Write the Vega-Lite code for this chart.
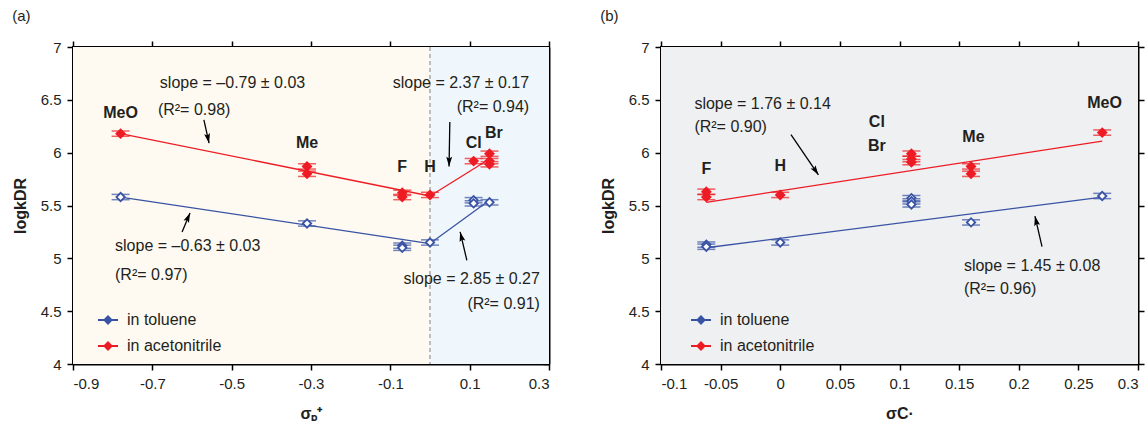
{
  "$schema": "https://vega.github.io/schema/vega-lite/v6.json",
  "padding": {"left": 11, "top": 8, "right": 5, "bottom": 5},
  "background": "white",
  "spacing": 48,
  "config": {
    "font": "Liberation Sans",
    "view": {"stroke": "black", "strokeWidth": 2},
    "axis": {"domainColor": "black", "domainWidth": 2, "tickColor": "black", "tickWidth": 1.5, "tickSize": 6, "labelFontSize": 15, "labelColor": "#231f20", "labelPadding": 6, "grid": false, "titleFontSize": 16, "titleColor": "#231f20", "titleFontWeight": "bold", "titlePadding": 12},
    "text": {"color": "#231f20"}
  },
  "resolve": {"scale": {"stroke": "independent", "fill": "independent", "color": "independent"}, "legend": {"stroke": "independent", "fill": "independent"}},
  "datasets": {
    "regions": [
      {"panel": "a", "region": "σ<0", "x0": -0.9, "x1": 0, "y0": 4, "y1": 7},
      {"panel": "a", "region": "σ>0", "x0": 0, "x1": 0.3, "y0": 4, "y1": 7},
      {"panel": "b", "region": "all", "x0": -0.1, "x1": 0.3, "y0": 4, "y1": 7}
    ],
    "points": [
      {"panel": "a", "series": "in acetonitrile", "sub": "MeO", "x": -0.78, "y": 6.18, "err": 0.025},
      {"panel": "a", "series": "in acetonitrile", "sub": "Me", "x": -0.31, "y": 5.87, "err": 0.025},
      {"panel": "a", "series": "in acetonitrile", "sub": "Me", "x": -0.31, "y": 5.8, "err": 0.025},
      {"panel": "a", "series": "in acetonitrile", "sub": "F", "x": -0.07, "y": 5.62, "err": 0.025},
      {"panel": "a", "series": "in acetonitrile", "sub": "F", "x": -0.07, "y": 5.58, "err": 0.025},
      {"panel": "a", "series": "in acetonitrile", "sub": "H", "x": 0, "y": 5.6, "err": 0.025},
      {"panel": "a", "series": "in acetonitrile", "sub": "Cl", "x": 0.11, "y": 5.92, "err": 0.025},
      {"panel": "a", "series": "in acetonitrile", "sub": "Br", "x": 0.15, "y": 5.99, "err": 0.025},
      {"panel": "a", "series": "in acetonitrile", "sub": "Br", "x": 0.15, "y": 5.92, "err": 0.025},
      {"panel": "a", "series": "in acetonitrile", "sub": "Br", "x": 0.15, "y": 5.89, "err": 0.025},
      {"panel": "a", "series": "in toluene", "sub": "MeO", "x": -0.78, "y": 5.58, "err": 0.025},
      {"panel": "a", "series": "in toluene", "sub": "Me", "x": -0.31, "y": 5.33, "err": 0.025},
      {"panel": "a", "series": "in toluene", "sub": "F", "x": -0.07, "y": 5.12, "err": 0.025},
      {"panel": "a", "series": "in toluene", "sub": "F", "x": -0.07, "y": 5.1, "err": 0.025},
      {"panel": "a", "series": "in toluene", "sub": "H", "x": 0, "y": 5.15, "err": 0.025},
      {"panel": "a", "series": "in toluene", "sub": "Cl", "x": 0.11, "y": 5.55, "err": 0.025},
      {"panel": "a", "series": "in toluene", "sub": "Cl", "x": 0.11, "y": 5.52, "err": 0.025},
      {"panel": "a", "series": "in toluene", "sub": "Br", "x": 0.15, "y": 5.53, "err": 0.025},
      {"panel": "b", "series": "in acetonitrile", "sub": "F", "x": -0.062, "y": 5.63, "err": 0.025},
      {"panel": "b", "series": "in acetonitrile", "sub": "F", "x": -0.062, "y": 5.58, "err": 0.025},
      {"panel": "b", "series": "in acetonitrile", "sub": "H", "x": 0, "y": 5.6, "err": 0.025},
      {"panel": "b", "series": "in acetonitrile", "sub": "Cl/Br", "x": 0.11, "y": 5.99, "err": 0.025},
      {"panel": "b", "series": "in acetonitrile", "sub": "Cl/Br", "x": 0.11, "y": 5.94, "err": 0.025},
      {"panel": "b", "series": "in acetonitrile", "sub": "Cl/Br", "x": 0.11, "y": 5.91, "err": 0.025},
      {"panel": "b", "series": "in acetonitrile", "sub": "Me", "x": 0.16, "y": 5.87, "err": 0.025},
      {"panel": "b", "series": "in acetonitrile", "sub": "Me", "x": 0.16, "y": 5.8, "err": 0.025},
      {"panel": "b", "series": "in acetonitrile", "sub": "MeO", "x": 0.27, "y": 6.19, "err": 0.025},
      {"panel": "b", "series": "in toluene", "sub": "F", "x": -0.062, "y": 5.13, "err": 0.025},
      {"panel": "b", "series": "in toluene", "sub": "F", "x": -0.062, "y": 5.11, "err": 0.025},
      {"panel": "b", "series": "in toluene", "sub": "H", "x": 0, "y": 5.15, "err": 0.025},
      {"panel": "b", "series": "in toluene", "sub": "Cl/Br", "x": 0.11, "y": 5.57, "err": 0.025},
      {"panel": "b", "series": "in toluene", "sub": "Cl/Br", "x": 0.11, "y": 5.54, "err": 0.025},
      {"panel": "b", "series": "in toluene", "sub": "Cl/Br", "x": 0.11, "y": 5.51, "err": 0.025},
      {"panel": "b", "series": "in toluene", "sub": "Me", "x": 0.16, "y": 5.34, "err": 0.025},
      {"panel": "b", "series": "in toluene", "sub": "MeO", "x": 0.27, "y": 5.59, "err": 0.025}
    ],
    "fits": [
      {"panel": "a", "series": "in toluene", "seg": "t1", "x": -0.78, "y": 5.58},
      {"panel": "a", "series": "in toluene", "seg": "t1", "x": 0, "y": 5.14},
      {"panel": "a", "series": "in toluene", "seg": "t2", "x": 0, "y": 5.14},
      {"panel": "a", "series": "in toluene", "seg": "t2", "x": 0.15, "y": 5.55},
      {"panel": "a", "series": "in acetonitrile", "seg": "m1", "x": -0.78, "y": 6.18},
      {"panel": "a", "series": "in acetonitrile", "seg": "m1", "x": 0, "y": 5.59},
      {"panel": "a", "series": "in acetonitrile", "seg": "m2", "x": 0, "y": 5.59},
      {"panel": "a", "series": "in acetonitrile", "seg": "m2", "x": 0.15, "y": 5.94},
      {"panel": "b", "series": "in toluene", "seg": "t", "x": -0.062, "y": 5.1},
      {"panel": "b", "series": "in toluene", "seg": "t", "x": 0.27, "y": 5.58},
      {"panel": "b", "series": "in acetonitrile", "seg": "m", "x": -0.062, "y": 5.53},
      {"panel": "b", "series": "in acetonitrile", "seg": "m", "x": 0.27, "y": 6.11}
    ],
    "notes": [
      {"panel": "a", "x": -0.681, "y": 6.66, "text": "slope = –0.79 ± 0.03"},
      {"panel": "a", "x": -0.686, "y": 6.4, "text": "(R²= 0.98)"},
      {"panel": "a", "x": 0.25, "y": 6.66, "text": "slope = 2.37 ± 0.17"},
      {"panel": "a", "x": 0.25, "y": 6.43, "text": "(R²= 0.94)"},
      {"panel": "a", "x": -0.794, "y": 5.12, "text": "slope = –0.63 ± 0.03"},
      {"panel": "a", "x": -0.794, "y": 4.84, "text": "(R²= 0.97)"},
      {"panel": "a", "x": 0.277, "y": 4.8, "text": "slope = 2.85 ± 0.27"},
      {"panel": "a", "x": 0.277, "y": 4.57, "text": "(R²= 0.91)"},
      {"panel": "b", "x": -0.072, "y": 6.46, "text": "slope = 1.76 ± 0.14"},
      {"panel": "b", "x": -0.072, "y": 6.24, "text": "(R²= 0.90)"},
      {"panel": "b", "x": 0.154, "y": 4.93, "text": "slope = 1.45 ± 0.08"},
      {"panel": "b", "x": 0.154, "y": 4.71, "text": "(R²= 0.96)"}
    ],
    "labels": [
      {"panel": "a", "x": -0.78, "y": 6.38, "text": "MeO"},
      {"panel": "a", "x": -0.31, "y": 6.09, "text": "Me"},
      {"panel": "a", "x": -0.07, "y": 5.86, "text": "F"},
      {"panel": "a", "x": 0, "y": 5.86, "text": "H"},
      {"panel": "a", "x": 0.11, "y": 6.09, "text": "Cl"},
      {"panel": "a", "x": 0.161, "y": 6.19, "text": "Br"},
      {"panel": "b", "x": -0.062, "y": 5.85, "text": "F"},
      {"panel": "b", "x": 0, "y": 5.87, "text": "H"},
      {"panel": "b", "x": 0.081, "y": 6.29, "text": "Cl"},
      {"panel": "b", "x": 0.081, "y": 6.06, "text": "Br"},
      {"panel": "b", "x": 0.162, "y": 6.15, "text": "Me"},
      {"panel": "b", "x": 0.272, "y": 6.47, "text": "MeO"}
    ],
    "arrows": [
      {"panel": "a", "x": -0.57, "y": 6.31, "x2": -0.557, "y2": 6.09, "angle": 168},
      {"panel": "a", "x": 0.05, "y": 6.29, "x2": 0.048, "y2": 5.87, "angle": 181},
      {"panel": "a", "x": -0.625, "y": 5.25, "x2": -0.605, "y2": 5.43, "angle": 23},
      {"panel": "a", "x": 0.093, "y": 4.98, "x2": 0.076, "y2": 5.25, "angle": -14},
      {"panel": "b", "x": 0.009, "y": 6.17, "x2": 0.032, "y2": 5.79, "angle": 146},
      {"panel": "b", "x": 0.2195, "y": 5.11, "x2": 0.2136, "y2": 5.4, "angle": -13}
    ]
  },
  "hconcat": [
    {
      "width": 476,
      "height": 317,
      "title": {"text": "(a)", "anchor": "start", "frame": "bounds", "fontSize": 15, "fontWeight": "normal", "offset": 16, "color": "#231f20"},
      "resolve": {"axis": {"x": "independent", "y": "independent"}},
      "layer": [
        {
          "data": {"name": "regions"},
          "transform": [{"filter": "datum.panel === 'a' && datum.x1 <= 0"}],
          "mark": {"type": "rect", "fill": "#fefaf1"},
          "encoding": {
            "x": {"field": "x0", "type": "quantitative", "scale": {"domain": [-0.9, 0.3], "nice": false, "zero": false}, "axis": {"orient": "bottom", "values": [-0.9, -0.7, -0.5, -0.3, -0.1, 0.1, 0.3], "format": ".1f", "labelExpr": "replace(datum.label, '−', '-')", "title": "σₚ⁺", "titlePadding": 14}},
            "x2": {"field": "x1"},
            "y": {"field": "y0", "type": "quantitative", "scale": {"domain": [4, 7], "nice": false, "zero": false}, "axis": {"orient": "left", "values": [4, 4.5, 5, 5.5, 6, 6.5, 7], "format": "~g", "title": "logkDR"}},
            "y2": {"field": "y1"}
          }
        },
        {
          "data": {"name": "regions"},
          "transform": [{"filter": "datum.panel === 'a' && datum.x0 >= 0"}],
          "mark": {"type": "rect", "fill": "#f0f7fc"},
          "encoding": {
            "x": {"field": "x0", "type": "quantitative", "axis": null},
            "x2": {"field": "x1"},
            "y": {"field": "y0", "type": "quantitative", "axis": null},
            "y2": {"field": "y1"}
          }
        },
        {
          "data": {"name": "regions"},
          "transform": [{"filter": "datum.panel === 'a' && datum.x0 >= 0"}],
          "mark": {"type": "rule", "stroke": "#a8a8a8", "strokeDash": [4, 3], "strokeWidth": 1.5},
          "encoding": {
            "x": {"field": "x0", "type": "quantitative", "axis": null}
          }
        },
        {
          "data": {"name": "fits"},
          "transform": [{"filter": "datum.panel === 'a'"}],
          "mark": {"type": "line", "strokeWidth": 1.3},
          "encoding": {
            "x": {"field": "x", "type": "quantitative", "axis": {"orient": "top", "labels": false, "title": null, "values": [-0.9, -0.7, -0.5, -0.3, -0.1, 0.1, 0.3]}},
            "y": {"field": "y", "type": "quantitative", "axis": {"orient": "right", "labels": false, "title": null, "values": [4, 4.5, 5, 5.5, 6, 6.5, 7], "tickSize": -6}},
            "detail": {"field": "seg"},
            "stroke": {"field": "series", "type": "nominal", "scale": {"domain": ["in toluene", "in acetonitrile"], "range": ["#3953a4", "#ed1c24"]}, "legend": {"orient": "none", "legendX": 24, "legendY": 262, "title": null, "symbolType": "M-1,0H-0.35M0.35,0H1M-0.35,0L0,-0.35L0.35,0L0,0.35Z", "symbolSize": 400, "symbolStrokeWidth": 2, "labelFontSize": 16, "labelColor": "#231f20", "rowPadding": 7, "labelOffset": 8, "padding": 0}}
          }
        },
        {
          "data": {"name": "points"},
          "transform": [{"filter": "datum.panel === 'a'"}],
          "mark": {"type": "errorbar", "ticks": {"size": 18, "thickness": 1.5}, "rule": {"strokeWidth": 1.5}},
          "encoding": {
            "x": {"field": "x", "type": "quantitative", "axis": null},
            "y": {"field": "y", "type": "quantitative", "axis": null},
            "yError": {"field": "err"},
            "color": {"field": "series", "type": "nominal", "scale": {"domain": ["in toluene", "in acetonitrile"], "range": ["#3953a4", "#ed1c24"]}, "legend": null}
          }
        },
        {
          "data": {"name": "points"},
          "transform": [{"filter": "datum.panel === 'a'"}],
          "mark": {"type": "point", "shape": "diamond", "size": 70, "strokeWidth": 1.8, "opacity": 1},
          "encoding": {
            "x": {"field": "x", "type": "quantitative", "axis": null},
            "y": {"field": "y", "type": "quantitative", "axis": null},
            "stroke": {"field": "series", "type": "nominal", "scale": {"domain": ["in toluene", "in acetonitrile"], "range": ["#3953a4", "#ed1c24"]}, "legend": {"orient": "none", "legendX": 24, "legendY": 262, "title": null, "symbolType": "M-1,0H-0.35M0.35,0H1M-0.35,0L0,-0.35L0.35,0L0,0.35Z", "symbolSize": 400, "symbolStrokeWidth": 2, "labelFontSize": 16, "labelColor": "#231f20", "rowPadding": 7, "labelOffset": 8, "padding": 0}},
            "fill": {"field": "series", "type": "nominal", "scale": {"domain": ["in toluene", "in acetonitrile"], "range": ["#ffffff", "#ed1c24"]}, "legend": {"orient": "none", "legendX": 24, "legendY": 262, "title": null, "symbolType": "M-1,0H-0.35M0.35,0H1M-0.35,0L0,-0.35L0.35,0L0,0.35Z", "symbolSize": 400, "symbolStrokeWidth": 2, "labelFontSize": 16, "labelColor": "#231f20", "rowPadding": 7, "labelOffset": 8, "padding": 0}}
          }
        },
        {
          "data": {"name": "notes"},
          "transform": [{"filter": "datum.panel === 'a' && datum.x < 0"}],
          "mark": {"type": "text", "align": "left", "baseline": "middle", "fontSize": 16},
          "encoding": {
            "x": {"field": "x", "type": "quantitative", "axis": null},
            "y": {"field": "y", "type": "quantitative", "axis": null},
            "text": {"field": "text"}
          }
        },
        {
          "data": {"name": "notes"},
          "transform": [{"filter": "datum.panel === 'a' && datum.x > 0"}],
          "mark": {"type": "text", "align": "right", "baseline": "middle", "fontSize": 16},
          "encoding": {
            "x": {"field": "x", "type": "quantitative", "axis": null},
            "y": {"field": "y", "type": "quantitative", "axis": null},
            "text": {"field": "text"}
          }
        },
        {
          "data": {"name": "labels"},
          "transform": [{"filter": "datum.panel === 'a'"}],
          "mark": {"type": "text", "align": "center", "baseline": "middle", "fontSize": 16, "fontWeight": "bold"},
          "encoding": {
            "x": {"field": "x", "type": "quantitative", "axis": null},
            "y": {"field": "y", "type": "quantitative", "axis": null},
            "text": {"field": "text"}
          }
        },
        {
          "data": {"name": "arrows"},
          "transform": [{"filter": "datum.panel === 'a'"}],
          "mark": {"type": "rule", "stroke": "black", "strokeWidth": 1.3},
          "encoding": {
            "x": {"field": "x", "type": "quantitative", "axis": null},
            "y": {"field": "y", "type": "quantitative", "axis": null},
            "x2": {"field": "x2"},
            "y2": {"field": "y2"}
          }
        },
        {
          "data": {"name": "arrows"},
          "transform": [{"filter": "datum.panel === 'a'"}],
          "mark": {"type": "point", "shape": "M0,0L-0.4,1.3L0,1.05L0.4,1.3Z", "filled": true, "color": "black", "size": 220, "opacity": 1},
          "encoding": {
            "x": {"field": "x2", "type": "quantitative", "axis": null},
            "y": {"field": "y2", "type": "quantitative", "axis": null},
            "angle": {"field": "angle", "type": "quantitative", "scale": null}
          }
        }
      ]
    },
    {
      "width": 477,
      "height": 317,
      "title": {"text": "(b)", "anchor": "start", "frame": "bounds", "fontSize": 15, "fontWeight": "normal", "offset": 16, "color": "#231f20"},
      "resolve": {"axis": {"x": "independent", "y": "independent"}},
      "layer": [
        {
          "data": {"name": "regions"},
          "transform": [{"filter": "datum.panel === 'b'"}],
          "mark": {"type": "rect", "fill": "#eff0f2"},
          "encoding": {
            "x": {"field": "x0", "type": "quantitative", "scale": {"domain": [-0.1, 0.3], "nice": false, "zero": false}, "axis": {"orient": "bottom", "values": [-0.1, -0.05, 0, 0.05, 0.1, 0.15, 0.2, 0.25, 0.3], "format": "~g", "labelExpr": "replace(datum.label, '−', '-')", "title": "σC·", "titlePadding": 14}},
            "x2": {"field": "x1"},
            "y": {"field": "y0", "type": "quantitative", "scale": {"domain": [4, 7], "nice": false, "zero": false}, "axis": {"orient": "left", "values": [4, 4.5, 5, 5.5, 6, 6.5, 7], "format": "~g", "title": "logkDR"}},
            "y2": {"field": "y1"}
          }
        },
        {
          "data": {"name": "fits"},
          "transform": [{"filter": "datum.panel === 'b'"}],
          "mark": {"type": "line", "strokeWidth": 1.3},
          "encoding": {
            "x": {"field": "x", "type": "quantitative", "axis": {"orient": "top", "labels": false, "title": null, "values": [-0.1, -0.05, 0, 0.05, 0.1, 0.15, 0.2, 0.25, 0.3]}},
            "y": {"field": "y", "type": "quantitative", "axis": {"orient": "right", "labels": false, "title": null, "values": [4, 4.5, 5, 5.5, 6, 6.5, 7]}},
            "detail": {"field": "seg"},
            "stroke": {"field": "series", "type": "nominal", "scale": {"domain": ["in toluene", "in acetonitrile"], "range": ["#3953a4", "#ed1c24"]}, "legend": {"orient": "none", "legendX": 29, "legendY": 262, "title": null, "symbolType": "M-1,0H-0.35M0.35,0H1M-0.35,0L0,-0.35L0.35,0L0,0.35Z", "symbolSize": 400, "symbolStrokeWidth": 2, "labelFontSize": 16, "labelColor": "#231f20", "rowPadding": 7, "labelOffset": 8, "padding": 0}}
          }
        },
        {
          "data": {"name": "points"},
          "transform": [{"filter": "datum.panel === 'b'"}],
          "mark": {"type": "errorbar", "ticks": {"size": 18, "thickness": 1.5}, "rule": {"strokeWidth": 1.5}},
          "encoding": {
            "x": {"field": "x", "type": "quantitative", "axis": null},
            "y": {"field": "y", "type": "quantitative", "axis": null},
            "yError": {"field": "err"},
            "color": {"field": "series", "type": "nominal", "scale": {"domain": ["in toluene", "in acetonitrile"], "range": ["#3953a4", "#ed1c24"]}, "legend": null}
          }
        },
        {
          "data": {"name": "points"},
          "transform": [{"filter": "datum.panel === 'b'"}],
          "mark": {"type": "point", "shape": "diamond", "size": 70, "strokeWidth": 1.8, "opacity": 1},
          "encoding": {
            "x": {"field": "x", "type": "quantitative", "axis": null},
            "y": {"field": "y", "type": "quantitative", "axis": null},
            "stroke": {"field": "series", "type": "nominal", "scale": {"domain": ["in toluene", "in acetonitrile"], "range": ["#3953a4", "#ed1c24"]}, "legend": {"orient": "none", "legendX": 29, "legendY": 262, "title": null, "symbolType": "M-1,0H-0.35M0.35,0H1M-0.35,0L0,-0.35L0.35,0L0,0.35Z", "symbolSize": 400, "symbolStrokeWidth": 2, "labelFontSize": 16, "labelColor": "#231f20", "rowPadding": 7, "labelOffset": 8, "padding": 0}},
            "fill": {"field": "series", "type": "nominal", "scale": {"domain": ["in toluene", "in acetonitrile"], "range": ["#ffffff", "#ed1c24"]}, "legend": {"orient": "none", "legendX": 29, "legendY": 262, "title": null, "symbolType": "M-1,0H-0.35M0.35,0H1M-0.35,0L0,-0.35L0.35,0L0,0.35Z", "symbolSize": 400, "symbolStrokeWidth": 2, "labelFontSize": 16, "labelColor": "#231f20", "rowPadding": 7, "labelOffset": 8, "padding": 0}}
          }
        },
        {
          "data": {"name": "notes"},
          "transform": [{"filter": "datum.panel === 'b'"}],
          "mark": {"type": "text", "align": "left", "baseline": "middle", "fontSize": 16},
          "encoding": {
            "x": {"field": "x", "type": "quantitative", "axis": null},
            "y": {"field": "y", "type": "quantitative", "axis": null},
            "text": {"field": "text"}
          }
        },
        {
          "data": {"name": "labels"},
          "transform": [{"filter": "datum.panel === 'b'"}],
          "mark": {"type": "text", "align": "center", "baseline": "middle", "fontSize": 16, "fontWeight": "bold"},
          "encoding": {
            "x": {"field": "x", "type": "quantitative", "axis": null},
            "y": {"field": "y", "type": "quantitative", "axis": null},
            "text": {"field": "text"}
          }
        },
        {
          "data": {"name": "arrows"},
          "transform": [{"filter": "datum.panel === 'b'"}],
          "mark": {"type": "rule", "stroke": "black", "strokeWidth": 1.3},
          "encoding": {
            "x": {"field": "x", "type": "quantitative", "axis": null},
            "y": {"field": "y", "type": "quantitative", "axis": null},
            "x2": {"field": "x2"},
            "y2": {"field": "y2"}
          }
        },
        {
          "data": {"name": "arrows"},
          "transform": [{"filter": "datum.panel === 'b'"}],
          "mark": {"type": "point", "shape": "M0,0L-0.4,1.3L0,1.05L0.4,1.3Z", "filled": true, "color": "black", "size": 220, "opacity": 1},
          "encoding": {
            "x": {"field": "x2", "type": "quantitative", "axis": null},
            "y": {"field": "y2", "type": "quantitative", "axis": null},
            "angle": {"field": "angle", "type": "quantitative", "scale": null}
          }
        }
      ]
    }
  ]
}
